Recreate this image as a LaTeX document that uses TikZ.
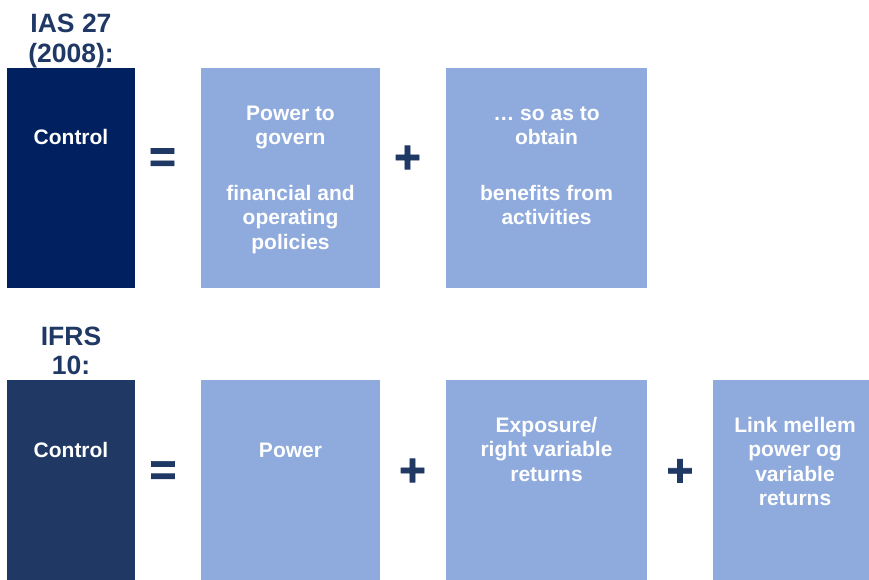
\documentclass[tikz,border=0pt]{standalone}
\usepackage{fontspec}
\setmainfont{Liberation Sans}
\newfontfamily\opfont[FakeBold=1.5]{Liberation Sans Bold}
\definecolor{navyA}{HTML}{002060}
\definecolor{navyB}{HTML}{1F3864}
\definecolor{lightB}{HTML}{8FAADC}
\tikzset{
  box/.style={inner sep=0pt, outer sep=0pt, draw=none, anchor=north west},
  txt/.style={text=white, font=\fontsize{21}{24.5}\selectfont\bfseries, align=center, inner sep=0pt},
  ttl/.style={text=navyB, font=\fontsize{26.5}{29.5}\selectfont\bfseries, align=center, inner sep=0pt, anchor=north},
  opsign/.style={text=navyB, font=\opfont\fontsize{46}{46}\selectfont, inner sep=0pt, anchor=base}
}
\begin{document}
\begin{tikzpicture}[x=1pt,y=-1pt]
\useasboundingbox (0,0) rectangle (869,579);
\clip (0,0) rectangle (869,579);
% row 1
\node[ttl] (t1) at (71,11.65) {\strut IAS 27\\(2008):};
\node[box, fill=navyA, minimum width=128pt, minimum height=220pt] (c1) at (7,68) {};
\node[box, fill=lightB, minimum width=179pt, minimum height=220pt] (p1) at (201,68) {};
\node[box, fill=lightB, minimum width=201pt, minimum height=220pt] (o1) at (446,68) {};
\node[txt, anchor=base] (c1t) at (71,144) {Control};
\node[txt, anchor=north] (p1t) at (290.5,102.85) {\strut Power to\\govern\\[31pt]financial and\\operating\\policies};
\node[txt, anchor=north] (o1t) at (546.5,102.85) {\strut … so as to\\obtain\\[31pt]benefits from\\activities};
\node[opsign] (eq1) at (162.5,172.4) {=};
\node[opsign] (pl1) at (407.5,172.8) {+};
% row 2
\node[ttl] (t2) at (71,324.35) {\strut IFRS\\10:};
\node[box, fill=navyB, minimum width=128pt, minimum height=210pt] (c2) at (7,380) {};
\node[box, fill=lightB, minimum width=179pt, minimum height=210pt] (p2) at (201,380) {};
\node[box, fill=lightB, minimum width=201pt, minimum height=210pt] (e2) at (446,380) {};
\node[box, fill=lightB, minimum width=164pt, minimum height=210pt] (l2) at (713,380) {};
\node[txt, anchor=base] (c2t) at (71,457) {Control};
\node[txt, anchor=base] (p2t) at (290.5,457) {Power};
\node[txt, anchor=north] (e2t) at (546.5,414.85) {\strut Exposure/\\right variable\\returns};
\node[txt, anchor=north] (l2t) at (795,414.85) {\strut Link mellem\\power og\\variable\\returns};
\node[opsign] (eq2) at (163,485.3) {=};
\node[opsign] (pl2) at (412.5,485.8) {+};
\node[opsign] (pl3) at (680,486.1) {+};
\end{tikzpicture}
\end{document}
